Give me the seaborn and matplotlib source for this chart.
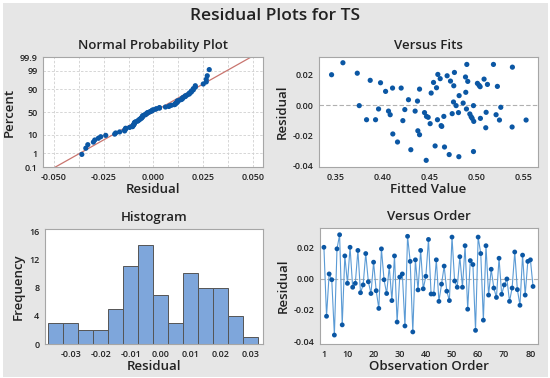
import numpy as np
import pandas as pd
import matplotlib
matplotlib.use("Agg")
import matplotlib.pyplot as plt
import seaborn as sns
from statistics import NormalDist

# residuals in observation order
residuals = [
    0.020, -0.024, 0.003, -0.0007, -0.036, 0.019, 0.028, -0.0295, 0.0145, -0.003,
    0.020, -0.0055, -0.003, 0.018, -0.009, -0.004, 0.016, -0.002, -0.0095, 0.0105,
    -0.0077, -0.019, 0.019, -0.0007, -0.0095, 0.0077, -0.014, 0.0145, -0.0277, 0.001,
    0.003, -0.0302, 0.027, 0.011, -0.034, 0.012, -0.0072, 0.018, -0.0065, 0.0015,
    0.025, -0.0098, -0.0098, 0.012, -0.0145, -0.0035, 0.008, -0.008, -0.014, 0.0265,
    -0.0015, -0.0055, 0.014, -0.0055, 0.021, -0.0195, 0.0115, 0.009, -0.033, 0.0265,
    0.016, -0.0265, 0.021, -0.0105, 0.006, -0.006, -0.012, 0.013, -0.010, -0.004,
    -0.0002, -0.0145, -0.006, 0.017, -0.007, -0.017, 0.015, -0.0105, 0.011, 0.012,
    -0.005,
]
observation = list(range(1, len(residuals) + 1))

# fitted value / residual pairs (Versus Fits panel)
fitted_values = [
    0.3457, 0.3578, 0.3731, 0.3752, 0.3830, 0.3869, 0.3926, 0.3958, 0.3979, 0.4033,
    0.4064, 0.4082, 0.4107, 0.4110, 0.4160, 0.4199, 0.4217, 0.4238, 0.4277, 0.4302,
    0.4348, 0.4373, 0.4377, 0.4395, 0.4395, 0.4448, 0.4466, 0.4469, 0.4487, 0.4508,
    0.4519, 0.4544, 0.4561, 0.4576, 0.4586, 0.4590, 0.4615, 0.4625, 0.4632, 0.4654,
    0.4661, 0.4689, 0.4711, 0.4725, 0.4743, 0.4760, 0.4757, 0.4767, 0.4785, 0.4810,
    0.4817, 0.4814, 0.4860, 0.4885, 0.4888, 0.4899, 0.4895, 0.4909, 0.4931, 0.4945,
    0.4956, 0.4970, 0.4973, 0.4970, 0.5012, 0.5030, 0.5041, 0.5044, 0.5083, 0.5101,
    0.5105, 0.5119, 0.5183, 0.5211, 0.5225, 0.5247, 0.5261, 0.5385, 0.5382, 0.5531,
]
fits_residuals = [
    0.0200, 0.0279, 0.0210, -0.0004, -0.0097, 0.0163, -0.0097, -0.0026, 0.0147, 0.0090,
    -0.0040, -0.0064, 0.0112, -0.0191, -0.0244, 0.0112, -0.0103, -0.0030, 0.0035, -0.0295,
    -0.0040, 0.0026, -0.0170, -0.0196, 0.0105, -0.0050, -0.0365, -0.0075, -0.0081, -0.0123,
    0.0079, 0.0149, -0.0270, 0.0114, -0.0097, 0.0202, 0.0174, -0.0136, -0.0141, -0.0075,
    -0.0277, 0.0193, -0.0327, 0.0158, -0.0057, 0.0127, 0.0020, 0.0215, -0.0004, -0.0050,
    0.0062, -0.0341, 0.0013, 0.0185, 0.0084, 0.0268, -0.0026, 0.0156, -0.0059, -0.0077,
    -0.0088, -0.0004, -0.0108, -0.0307, 0.0143, 0.0130, 0.0121, -0.0088, 0.0171, -0.0150,
    -0.0048, 0.0136, 0.0268, -0.0064, 0.0123, -0.0099, -0.0015, 0.0250, -0.0145, -0.0099,
]

prob_ticks = [0.1, 1, 10, 50, 90, 99, 99.9]
prob_labels = ["0.1", "1", "10", "50", "90", "99", "99.9"]

sns.set_theme(style="white")
plt.rcParams["font.family"] = ["Open Sans", "DejaVu Sans"]
plt.rcParams["axes.edgecolor"] = "#a6a6a6"
plt.rcParams["axes.linewidth"] = 0.8
plt.rcParams["xtick.color"] = "#a6a6a6"
plt.rcParams["ytick.color"] = "#a6a6a6"
plt.rcParams["xtick.labelcolor"] = "#222222"
plt.rcParams["ytick.labelcolor"] = "#222222"

W, H = 550, 378
fig = plt.figure(figsize=(W / 100, H / 100), dpi=100)
fig.patch.set_facecolor("white")
fig.patches.append(plt.Rectangle((3 / W, 1 / H), 545 / W, 374 / H, transform=fig.transFigure,
                                 facecolor="#e6e6e6", edgecolor="none", zorder=-1))


def box(x0, y0, x1, y1):
    return [x0 / W, 1 - y1 / H, (x1 - x0) / W, (y1 - y0) / H]


dot = "#0b57a4"
tick_kw = dict(labelsize=6.5, length=2.5, width=0.7, pad=1.5)
lab_kw = dict(fontsize=9.5, fontweight="semibold", color="#222222")
title_kw = dict(fontsize=9.5, fontweight="semibold", color="#222222", pad=6)

fig.text(0.5, 1 - 16 / H, "Residual Plots for TS", ha="center", va="center",
         fontsize=12.5, fontweight="semibold", color="#222222")

# ---- Normal probability plot
ax1 = fig.add_axes(box(43, 57, 263, 167))
res_sorted = np.sort(residuals)
n = len(res_sorted)
nd = NormalDist()
pct = [(i - 0.3) / (n + 0.4) for i in range(1, n + 1)]
z = [nd.inv_cdf(p) for p in pct]
npp = pd.DataFrame({"res": res_sorted, "z": z})
mu, sd = np.mean(residuals), np.std(residuals, ddof=1)
zlo, zhi = nd.inv_cdf(0.001), nd.inv_cdf(0.999)
fit_line = pd.DataFrame({"x": [mu + sd * zlo * 1.2, mu + sd * zhi * 1.2], "z": [zlo * 1.2, zhi * 1.2]})
sns.lineplot(data=fit_line, x="x", y="z", color="#c9756f", linewidth=0.9, ax=ax1)
sns.scatterplot(data=npp, x="res", y="z", color=dot, s=14, edgecolor="none", ax=ax1, zorder=3)
ax1.set_xlim(-0.0555, 0.055)
ax1.set_ylim(zlo, zhi)
ax1.set_yticks([nd.inv_cdf(p / 100) for p in prob_ticks])
ax1.set_yticklabels(prob_labels)
ax1.set_xticks([-0.05, -0.025, 0.0, 0.025, 0.05])
ax1.set_xticklabels(["-0.050", "-0.025", "0.000", "0.025", "0.050"])
ax1.set_xticks(np.arange(-0.05, 0.051, 0.0125), minor=True)
ax1.tick_params(which="minor", length=0)
ax1.grid(True, which="both", axis="x", color="#d0d0d0", linestyle=(0, (3, 2)), linewidth=0.6)
ax1.grid(True, which="major", axis="y", color="#d0d0d0", linestyle=(0, (3, 2)), linewidth=0.6)
ax1.set_xlabel("Residual", labelpad=1, **lab_kw)
ax1.set_ylabel("Percent", labelpad=3, **lab_kw)
ax1.set_title("Normal Probability Plot", **title_kw)

# ---- Versus fits
ax2 = fig.add_axes(box(319, 57, 538, 167))
fits = pd.DataFrame({"fit": fitted_values, "res": fits_residuals})
ax2.axhline(0, color="#b0b0b0", linestyle=(0, (4, 2)), linewidth=0.8)
sns.scatterplot(data=fits, x="fit", y="res", color=dot, s=14, edgecolor="none", ax=ax2, zorder=3)
ax2.set_xlim(0.3323, 0.5658)
ax2.set_ylim(-0.0409, 0.0317)
ax2.set_xticks([0.35, 0.40, 0.45, 0.50, 0.55])
ax2.set_xticklabels(["0.35", "0.40", "0.45", "0.50", "0.55"])
ax2.set_yticks([0.02, 0.0, -0.02, -0.04])
ax2.set_yticklabels(["0.02", "0.00", "-0.02", "-0.04"])
ax2.set_xlabel("Fitted Value", labelpad=1, **lab_kw)
ax2.set_ylabel("Residual", labelpad=3, **lab_kw)
ax2.set_title("Versus Fits", **title_kw)

# ---- Histogram
ax3 = fig.add_axes(box(45, 229, 263, 344))
edges = np.arange(-0.0375, 0.0330, 0.005)
sns.histplot(x=residuals, bins=edges, color="#7ea6db", edgecolor="#555555", linewidth=0.7,
             alpha=1, ax=ax3)
ax3.set_xlim(-0.0386, 0.034)
ax3.set_ylim(0, 16.3)
ax3.set_yticks([0, 4, 8, 12, 16])
ax3.set_xticks([-0.03, -0.02, -0.01, 0.0, 0.01, 0.02, 0.03])
ax3.set_xticklabels(["-0.03", "-0.02", "-0.01", "0.00", "0.01", "0.02", "0.03"])
ax3.set_xlabel("Residual", labelpad=1, **lab_kw)
ax3.set_ylabel("Frequency", labelpad=3, **lab_kw)
ax3.set_title("Histogram", **title_kw)

# ---- Versus order
ax4 = fig.add_axes(box(320, 228, 538, 344))
order = pd.DataFrame({"obs": observation, "res": residuals})
ax4.axhline(0, color="#b0b0b0", linestyle=(0, (4, 2)), linewidth=0.8)
sns.lineplot(data=order, x="obs", y="res", color="#5b9bd5", linewidth=0.8, ax=ax4)
sns.scatterplot(data=order, x="obs", y="res", color=dot, s=12, edgecolor="none", ax=ax4, zorder=3)
ax4.set_xlim(-0.5, 82.9)
ax4.set_ylim(-0.0417, 0.0323)
ax4.set_xticks([1, 10, 20, 30, 40, 50, 60, 70, 80])
ax4.set_yticks([0.02, 0.0, -0.02, -0.04])
ax4.set_yticklabels(["0.02", "0.00", "-0.02", "-0.04"])
ax4.set_xlabel("Observation Order", labelpad=1, **lab_kw)
ax4.set_ylabel("Residual", labelpad=3, **lab_kw)
ax4.set_title("Versus Order", **title_kw)

for ax in (ax1, ax2, ax3, ax4):
    ax.set_facecolor("white")
    ax.tick_params(**tick_kw)
    for s in ax.spines.values():
        s.set_visible(True)
    for t in ax.get_xticklabels() + ax.get_yticklabels():
        t.set_fontweight("semibold")

fig.savefig("out.png", dpi=100)
